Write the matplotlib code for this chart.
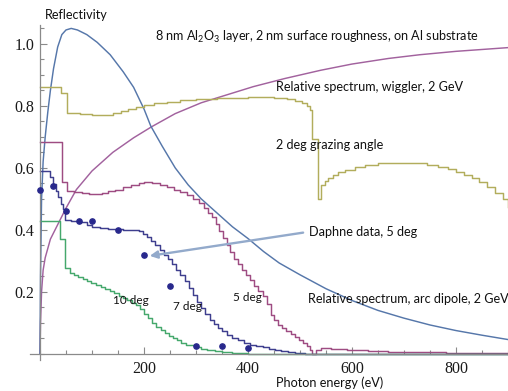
import numpy as np
import matplotlib
matplotlib.use('Agg')
import matplotlib.pyplot as plt
from matplotlib.ticker import MultipleLocator

plt.rcParams['font.family'] = ['Lato', 'DejaVu Sans']
plt.rcParams['mathtext.fontset'] = 'custom'
plt.rcParams['mathtext.rm'] = 'Lato'
plt.rcParams['mathtext.default'] = 'rm'

# relative dipole spectrum (smooth)
dip_e = [0, 1, 3, 6, 10, 15, 20, 26, 34, 42, 50, 60, 72, 90, 110, 135, 160, 180,
         200, 213, 235, 260, 285, 310, 340, 370, 400, 430, 460, 500, 550, 600,
         650, 700, 750, 800, 850, 900]
dip_r = [0, 0.25, 0.5, 0.62, 0.7, 0.78, 0.85, 0.92, 0.99, 1.03, 1.045, 1.05,
         1.045, 1.03, 1.005, 0.965, 0.91, 0.86, 0.79, 0.735, 0.67, 0.6, 0.545,
         0.5, 0.455, 0.41, 0.372, 0.33, 0.293, 0.255, 0.21, 0.172, 0.14, 0.115,
         0.093, 0.075, 0.06, 0.046]

# relative wiggler spectrum (smooth)
wig_e = [0, 1, 3, 6, 10, 20, 35, 50, 70, 100, 140, 180, 215, 260, 310, 360,
         410, 470, 540, 600, 670, 730, 800, 900]
wig_r = [0, 0.1, 0.2, 0.27, 0.31, 0.37, 0.42, 0.47, 0.53, 0.59, 0.65, 0.697,
         0.733, 0.775, 0.81, 0.836, 0.862, 0.888, 0.915, 0.935, 0.953, 0.965,
         0.976, 0.988]

# reflectivity at 2 deg
r2_e = [0, 40, 51, 77, 100, 125, 140, 155, 170, 185, 200, 220, 245, 270, 300,
        340, 400, 450, 475, 490, 503, 513, 519, 524, 534, 541, 548, 554, 564,
        573, 587, 606, 625, 650, 690, 720, 745, 765, 785, 800, 815, 830, 845,
        860, 875, 890, 900]
r2 = [0.86, 0.84, 0.778, 0.774, 0.77, 0.772, 0.777, 0.783, 0.79, 0.796, 0.802,
      0.808, 0.814, 0.819, 0.823, 0.827, 0.828, 0.826, 0.822, 0.817, 0.81, 0.8,
      0.787, 0.692, 0.499, 0.545, 0.556, 0.567, 0.577, 0.588, 0.594, 0.604,
      0.61, 0.615, 0.617, 0.615, 0.61, 0.604, 0.597, 0.588, 0.578, 0.566,
      0.553, 0.538, 0.52, 0.5, 0.475]

# reflectivity at 5 deg
r5_e = [0, 42, 51, 65, 80, 95, 110, 120, 130, 145, 160, 175, 190, 200, 215,
        230, 245, 258, 270, 282, 295, 305, 315, 323, 331, 338, 345, 352, 359,
        366, 373, 380, 388, 396, 404, 412, 420, 428, 436, 444, 450, 458, 466,
        474, 482, 490, 498, 506, 514, 520, 524, 530, 540, 560, 590, 630, 670,
        720, 780, 840, 900]
r5 = [0.682, 0.553, 0.524, 0.522, 0.52, 0.517, 0.516, 0.52, 0.524, 0.53, 0.537,
      0.544, 0.55, 0.553, 0.551, 0.545, 0.538, 0.53, 0.522, 0.512, 0.5, 0.488,
      0.472, 0.455, 0.44, 0.418, 0.396, 0.374, 0.352, 0.33, 0.305, 0.29, 0.272,
      0.255, 0.237, 0.22, 0.203, 0.185, 0.16, 0.125, 0.108, 0.094, 0.083,
      0.074, 0.064, 0.054, 0.043, 0.034, 0.024, 0.012, 0.0, 0.012, 0.018,
      0.016, 0.013, 0.01, 0.007, 0.005, 0.003, 0.001, 0.0]

# reflectivity at 7 deg
r7_e = [0, 20, 25, 30, 35, 40, 45, 49, 60, 75, 90, 100, 115, 130, 145, 160,
        180, 190, 198, 206, 214, 222, 230, 238, 246, 254, 262, 270, 278, 286,
        294, 302, 310, 318, 326, 334, 342, 350, 360, 370, 380, 392, 404, 416,
        428, 440, 452, 464, 476, 490, 510, 900]
r7 = [0.591, 0.57, 0.548, 0.525, 0.505, 0.485, 0.468, 0.432, 0.428, 0.424,
      0.415, 0.41, 0.407, 0.404, 0.402, 0.4, 0.4, 0.395, 0.388, 0.378, 0.365,
      0.35, 0.335, 0.318, 0.305, 0.29, 0.272, 0.255, 0.235, 0.212, 0.19, 0.168,
      0.148, 0.128, 0.11, 0.095, 0.083, 0.072, 0.06, 0.052, 0.045, 0.036,
      0.03, 0.025, 0.021, 0.017, 0.013, 0.009, 0.005, 0.002, 0.0, 0.0]

# reflectivity at 10 deg
r10_e = [0, 38, 49, 58, 66, 74, 82, 90, 99, 108, 117, 125, 134, 142, 151, 160,
         168, 176, 184, 192, 200, 208, 216, 224, 232, 240, 248, 256, 264, 272,
         280, 290, 300, 310, 322, 336, 350, 370, 400, 900]
r10 = [0.427, 0.37, 0.276, 0.262, 0.255, 0.248, 0.242, 0.235, 0.228, 0.222,
       0.216, 0.21, 0.202, 0.195, 0.188, 0.18, 0.172, 0.165, 0.156, 0.145, 0.13,
       0.115, 0.1, 0.087, 0.077, 0.067, 0.058, 0.05, 0.043, 0.036, 0.029,
       0.027, 0.022, 0.017, 0.012, 0.008, 0.005, 0.002, 0.0, 0.0]

# Daphne measurements, 5 deg
daph_e = [0, 25, 50, 75, 100, 150, 200, 250, 300, 350, 400]
daph_r = [0.53, 0.54, 0.46, 0.43, 0.43, 0.40, 0.32, 0.22, 0.025, 0.025, 0.02]

fig = plt.figure(figsize=(5.08, 3.91), dpi=100)
ax = fig.add_axes([29.6 / 508, 31 / 391, 478.4 / 508, 335 / 391])

lw = 1.05
ax.plot(wig_e, wig_r, color='#a2629e', lw=lw)
ax.plot(dip_e, dip_r, color='#5677aa', lw=lw)
ax.plot(r2_e, r2, color='#b2ad5c', lw=lw, drawstyle='steps-post')
ax.plot(r5_e, r5, color='#9e4c82', lw=lw, drawstyle='steps-post')
ax.plot(r7_e, r7, color='#3e3e8e', lw=lw, drawstyle='steps-post')
ax.plot(r10_e, r10, color='#45a86c', lw=lw, drawstyle='steps-post')
ax.plot(daph_e, daph_r, 'o', color='#28288c', ms=3.8, zorder=5, clip_on=False)

ax.set_xlim(-20, 900)
ax.set_ylim(-0.02, 1.061)

for s in ['top', 'right']:
    ax.spines[s].set_visible(False)
ax.spines['left'].set_position(('data', 0))
ax.spines['bottom'].set_position(('data', 0))
for s in ['left', 'bottom']:
    ax.spines[s].set_color('#8a8a8a')
    ax.spines[s].set_linewidth(0.9)

ax.xaxis.set_minor_locator(MultipleLocator(50))
ax.yaxis.set_minor_locator(MultipleLocator(0.05))
ax.set_xticks([200, 400, 600, 800])
ax.set_yticks([0.2, 0.4, 0.6, 0.8, 1.0])
ax.set_xticklabels(['200', '400', '600', '800'])
ax.set_yticklabels(['0.2', '0.4', '0.6', '0.8', '1.0'])
ax.tick_params(which='both', direction='in', color='#8a8a8a', width=0.8,
               labelsize=11.5, labelcolor='#1a1a1a')
ax.tick_params(which='major', length=5)
ax.tick_params(which='minor', length=3)
ax.tick_params(axis='x', pad=5)
ax.tick_params(axis='y', pad=4)
for lab in ax.get_xticklabels() + ax.get_yticklabels():
    lab.set_family('Liberation Serif')

tc = '#111111'
fs = 9.1
ax.text(222, 1.023, '8 nm Al$_2$O$_3$ layer, 2 nm surface roughness, on Al substrate',
        fontsize=fs, color=tc, va='center')
ax.text(454, 0.862, 'Relative spectrum, wiggler, 2 GeV', fontsize=fs, color=tc, va='center')
ax.text(454, 0.674, '2 deg grazing angle', fontsize=fs, color=tc, va='center')
ax.text(517, 0.392, 'Daphne data, 5 deg', fontsize=fs, color=tc, va='center')
ax.text(515, 0.177, 'Relative spectrum, arc dipole, 2 GeV', fontsize=fs, color=tc,
        va='center', clip_on=True)
ax.text(140, 0.171, '10 deg', fontsize=fs - 0.6, color=tc, va='center')
ax.text(256, 0.153, '7 deg', fontsize=fs - 0.6, color=tc, va='center')
ax.text(371, 0.181, '5 deg', fontsize=fs - 0.6, color=tc, va='center')

ax.annotate('', xy=(211, 0.316), xytext=(506, 0.391),
            arrowprops=dict(arrowstyle='-|>', color='#93aacb', lw=1.7,
                            mutation_scale=11, shrinkA=0, shrinkB=0))

fig.text(45 / 508, 1 - 15 / 391, 'Reflectivity', fontsize=fs, color=tc, va='center')
fig.text(330 / 508, 1 - 383 / 391, 'Photon energy (eV)', fontsize=fs, color=tc,
         va='center', ha='center')

fig.savefig('out.png', dpi=100)
